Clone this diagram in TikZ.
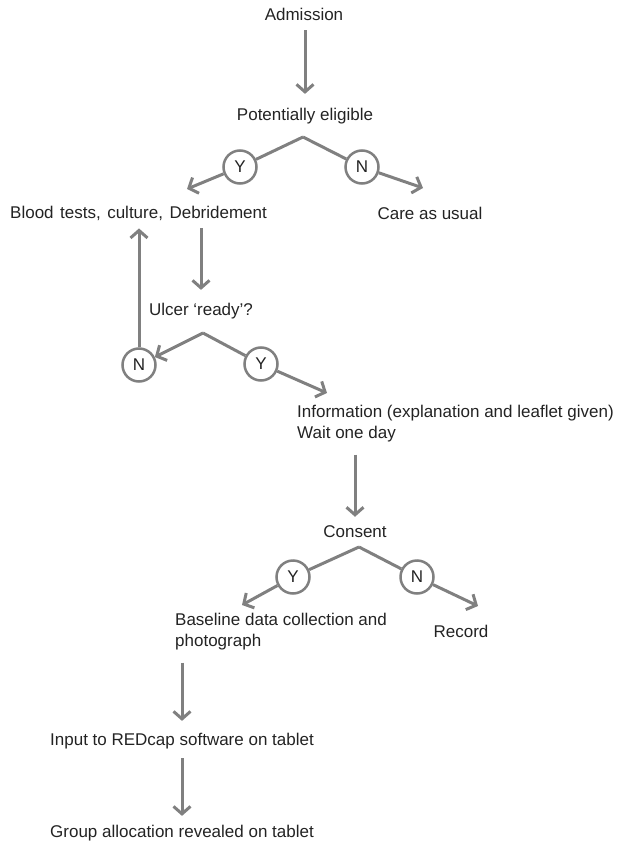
\documentclass[tikz,border=0pt]{standalone}
\usepackage{fontspec}
\setmainfont{Liberation Sans}
\usetikzlibrary{arrows.meta}
\definecolor{lc}{RGB}{128,128,128}
\definecolor{tc}{RGB}{35,35,35}
\begin{document}
\begin{tikzpicture}[x=1pt,y=-1pt,
  txt/.style={inner sep=0pt, text=tc, font=\fontsize{17}{21}\selectfont},
  ln/.style={draw=lc, line width=3pt},
  arr/.style={ln, -{Straight Barb[length=7.5pt,width=17pt]}},
  yn/.style={circle, draw=lc, line width=2.5pt, fill=white, minimum size=33pt,
             inner sep=0pt, text=tc, font=\fontsize{17}{20}\selectfont}]
\useasboundingbox (0,0) rectangle (618,842);

% texts
\node[txt] (adm) at (304,14) {Admission};
\node[txt] (pe) at (305,116) {Potentially eligible};
\node[txt, anchor=west] (blood) at (10,213) {\spaceskip=6.5pt Blood tests, culture, Debridement};
\node[txt] (care) at (430,213) {Care as usual};
\node[txt] (ulcer) at (201,311) {Ulcer ‘ready’?};
\node[txt, align=left, anchor=west] (info) at (297,424) {Information (explanation and leaflet given)\\Wait one day};
\node[txt] (consent) at (355,532) {Consent};
\node[txt, align=left, anchor=west] (base) at (175,632) {Baseline data collection and\\photograph};
\node[txt] (record) at (461,631) {Record};
\node[txt] (input) at (182,741) {Input to REDcap software on tablet};
\node[txt] (group) at (182,833) {Group allocation revealed on tablet};

% decision 1
\coordinate (ap1) at (303,137);
\node[yn] (y1) at (240,167) {Y};
\node[yn] (n1) at (362,167) {N};
\coordinate (e1) at (187,189);
\coordinate (f1) at (423,188);

% decision 2
\coordinate (ap2) at (203,333);
\node[yn] (n2) at (139,365) {N};
\node[yn] (y2) at (261,364) {Y};
\coordinate (f2) at (327,393);

% decision 3
\coordinate (ap3) at (359,547);
\node[yn] (y3) at (293,577) {Y};
\node[yn] (n3) at (417,577) {N};
\coordinate (e3) at (242,605);
\coordinate (f3) at (478,606);

% vertical arrows
\draw[arr, shorten <=10pt, shorten >=14pt] (pe |- adm.south) -- (pe.north);
\draw[arr, shorten <=8pt, shorten >=13pt] (ulcer |- blood.south) -- (ulcer.north);
\draw[arr, shorten <=12pt, shorten >=9pt] (consent |- info.south) -- (consent.north);
\draw[arr, shorten <=12pt, shorten >=12pt] (input |- base.south) -- (input.north);
\draw[arr, shorten <=9pt, shorten >=9pt] (input.south) -- (group.north);
\draw[arr, shorten >=8pt] (n2.north) -- (n2 |- blood.south);

% branches
\draw[ln] (ap1) -- (y1);
\draw[ln] (ap1) -- (n1);
\draw[arr] (y1) -- (e1);
\draw[arr] (n1) -- (f1);

\draw[arr] (ap2) -- (n2);
\draw[ln] (ap2) -- (y2);
\draw[arr] (y2) -- (f2);

\draw[ln] (ap3) -- (y3);
\draw[ln] (ap3) -- (n3);
\draw[arr] (y3) -- (e3);
\draw[arr] (n3) -- (f3);
\end{tikzpicture}
\end{document}
